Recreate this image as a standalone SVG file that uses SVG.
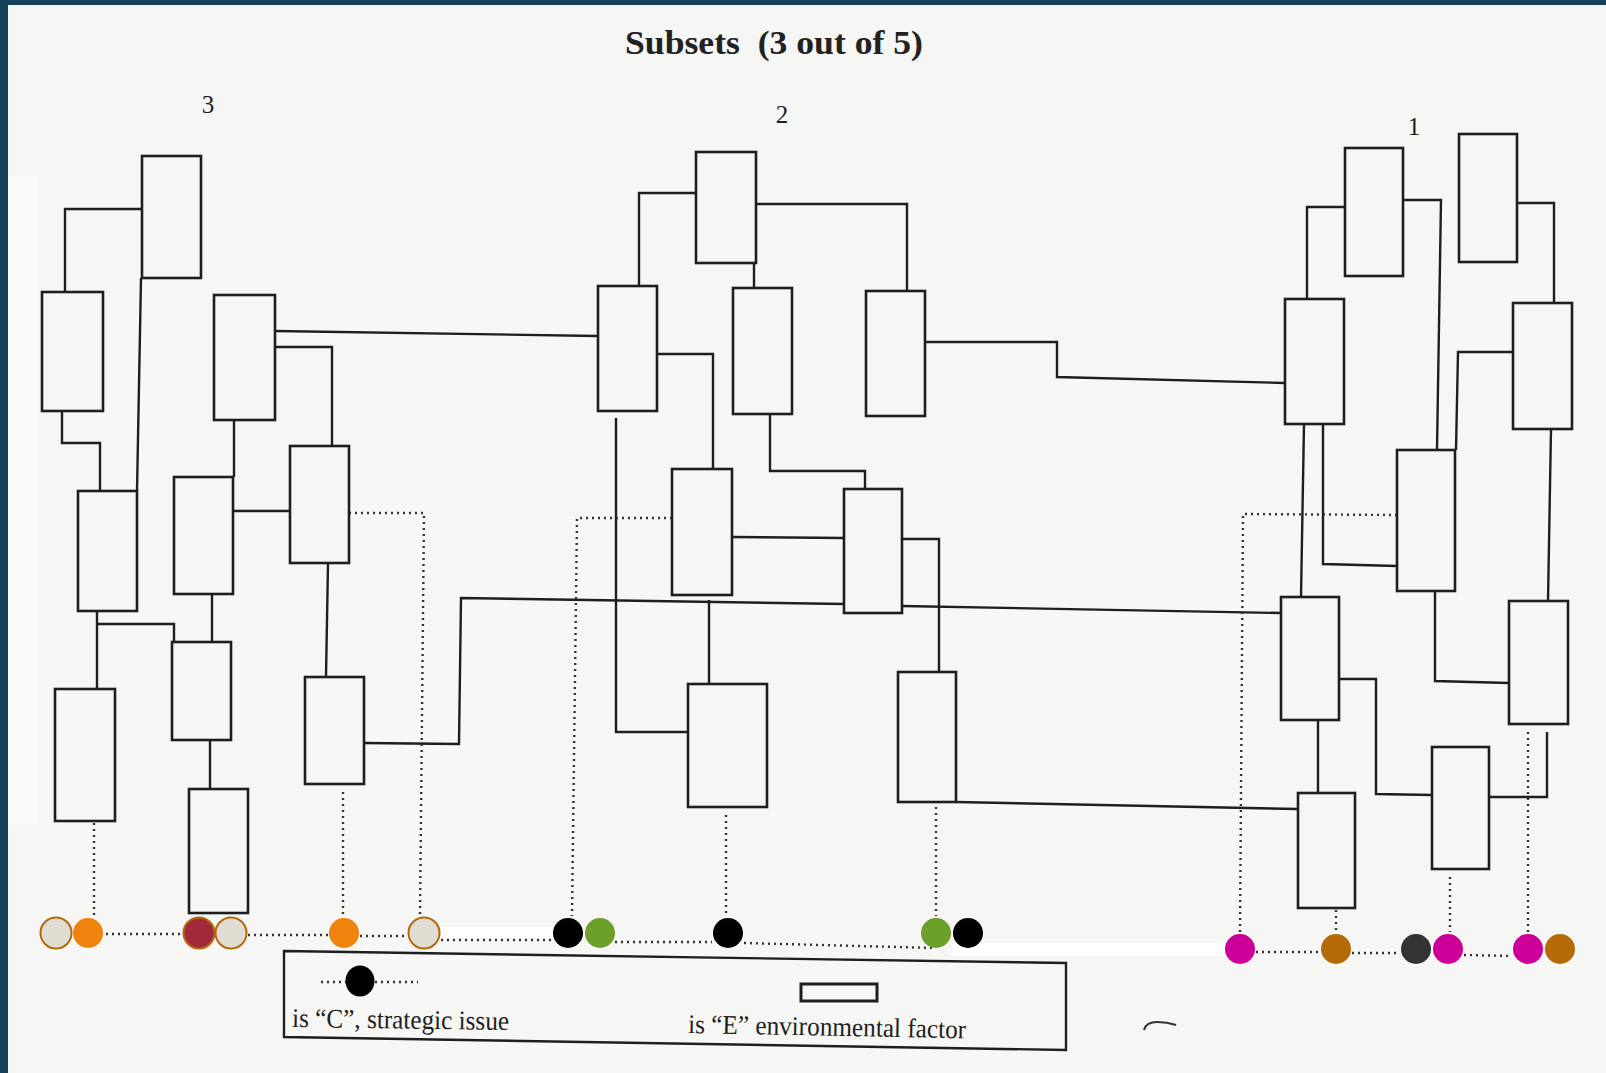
<svg xmlns="http://www.w3.org/2000/svg" width="1606" height="1073" viewBox="0 0 1606 1073">
<defs>
<style>
.bx{fill:none;stroke:#1e1e1e;stroke-width:2.6}
.ln{fill:none;stroke:#1e1e1e;stroke-width:2.4;stroke-linejoin:miter}
.dt{fill:none;stroke:#333333;stroke-width:2.4;stroke-dasharray:2 4}
.num{font-family:"Liberation Serif","Times New Roman",serif;font-size:25px;fill:#222;text-anchor:middle}
.lg{font-family:"Liberation Serif","Times New Roman",serif;font-size:27px;fill:#1e1e1e}
.beige{fill:#e2ddd3;stroke:#b3690f;stroke-width:2}
.orange{fill:#f0820e}
.dred{fill:#a3283a;stroke:#b3690f;stroke-width:2}
.green{fill:#6ca02a}
.black{fill:#000}
.mag{fill:#cc0099}
.brown{fill:#b46b05}
.dgray{fill:#333333}
</style>
</defs>
<rect x="0" y="0" width="1606" height="1073" fill="#16405b"/>
<rect x="8" y="5" width="1598" height="1068" fill="#f6f6f4"/>
<rect x="8" y="176" width="30" height="651" fill="#f9f9f8"/>
<text x="774" y="54" font-family="Liberation Serif, Times New Roman, serif" font-size="33" font-weight="bold" fill="#222" text-anchor="middle" style="white-space:pre" textLength="298" lengthAdjust="spacingAndGlyphs">Subsets  (3 out of 5)</text>
<text class="num" x="208" y="113">3</text>
<text class="num" x="782" y="123">2</text>
<text class="num" x="1414" y="135">1</text>
<g id="connectors">
<path class="ln" d="M65 292 V209 H142"/>
<path class="ln" d="M141 278 L137 491"/>
<path class="ln" d="M62 411 V443 H100 V491"/>
<path class="ln" d="M275 331 L598 336"/>
<path class="ln" d="M275 347 H332 V446"/>
<path class="ln" d="M234 420 V477"/>
<path class="ln" d="M233 511 H290"/>
<path class="ln" d="M97 611 V689"/>
<path class="ln" d="M97 624 H174 V642"/>
<path class="ln" d="M212 594 V642"/>
<path class="ln" d="M210 740 V789"/>
<path class="ln" d="M328 563 L326 677"/>
<path class="ln" d="M364 743 L459 744 L461 598 L844 604"/>
<path class="ln" d="M902 606 L1281 613"/>
<path class="ln" d="M639 286 V193 H696"/>
<path class="ln" d="M756 204 H907 V291"/>
<path class="ln" d="M754 263 V288"/>
<path class="ln" d="M925 342 H1057 V377 L1285 383"/>
<path class="ln" d="M657 354 H713 V469"/>
<path class="ln" d="M616 418 V732 H688"/>
<path class="ln" d="M770 414 V471 H865 V489"/>
<path class="ln" d="M732 537 L844 538"/>
<path class="ln" d="M709 600 V684"/>
<path class="ln" d="M902 539 H939 V672"/>
<path class="ln" d="M956 802 L1298 809"/>
<path class="ln" d="M1307 299 V207 H1345"/>
<path class="ln" d="M1403 200 H1441 L1437 450"/>
<path class="ln" d="M1517 203 H1554 V303"/>
<path class="ln" d="M1513 352 H1458 L1456 450"/>
<path class="ln" d="M1304 424 L1301 597"/>
<path class="ln" d="M1323 424 V564 L1397 566"/>
<path class="ln" d="M1551 429 L1548 601"/>
<path class="ln" d="M1435 591 V681 L1509 683"/>
<path class="ln" d="M1339 679 H1376 V794 L1432 795"/>
<path class="ln" d="M1318 720 V793"/>
<path class="ln" d="M1489 797 H1547 V732"/>
<path class="dt" d="M349 513 H424 L420 917"/>
<path class="dt" d="M94 823 V915"/>
<path class="dt" d="M343 792 V915"/>
<path class="dt" d="M672 518 H577 L572 916"/>
<path class="dt" d="M726 815 V916"/>
<path class="dt" d="M936 807 V916"/>
<path class="dt" d="M1397 515 L1243 514 L1240 932"/>
<path class="dt" d="M1528 732 V932"/>
<path class="dt" d="M1450 877 V932"/>
<path class="dt" d="M1336 910 V932"/>
<path class="dt" d="M106 934 H183"/>
<path class="dt" d="M248 935 H328"/>
<path class="dt" d="M360 936 H408"/>
<path class="dt" d="M441 940 H553"/>
<path class="dt" d="M615 942 H712"/>
<path class="dt" d="M744 943 L935 948"/>
<path class="dt" d="M1256 952 H1320"/>
<path class="dt" d="M1352 953 H1400"/>
<path class="dt" d="M1464 955 L1512 956"/>
</g>
<rect x="441" y="927" width="112" height="11" fill="#ffffff"/>
<rect x="952" y="943" width="273" height="12" fill="#ffffff"/>
<g id="L1"><rect class="bx" x="142" y="156" width="59" height="122"/></g>
<g id="L2"><rect class="bx" x="42" y="292" width="61" height="119"/></g>
<g id="L3"><rect class="bx" x="214" y="295" width="61" height="125"/></g>
<g id="L4"><rect class="bx" x="290" y="446" width="59" height="117"/></g>
<g id="L5"><rect class="bx" x="78" y="491" width="59" height="120"/></g>
<g id="L6"><rect class="bx" x="174" y="477" width="59" height="117"/></g>
<g id="L7"><rect class="bx" x="172" y="642" width="59" height="98"/></g>
<g id="L8"><rect class="bx" x="55" y="689" width="60" height="132"/></g>
<g id="L9"><rect class="bx" x="189" y="789" width="59" height="124"/></g>
<g id="L10"><rect class="bx" x="305" y="677" width="59" height="107"/></g>
<g id="M0"><rect class="bx" x="696" y="152" width="60" height="111"/></g>
<g id="M1"><rect class="bx" x="598" y="286" width="59" height="125"/></g>
<g id="M2"><rect class="bx" x="733" y="288" width="59" height="126"/></g>
<g id="M3"><rect class="bx" x="866" y="291" width="59" height="125"/></g>
<g id="M4"><rect class="bx" x="672" y="469" width="60" height="126"/></g>
<g id="M5"><rect class="bx" x="844" y="489" width="58" height="124"/></g>
<g id="M6"><rect class="bx" x="688" y="684" width="79" height="123"/></g>
<g id="M7"><rect class="bx" x="898" y="672" width="58" height="130"/></g>
<g id="RT1"><rect class="bx" x="1345" y="148" width="58" height="128"/></g>
<g id="RT2"><rect class="bx" x="1459" y="134" width="58" height="128"/></g>
<g id="R1"><rect class="bx" x="1285" y="299" width="59" height="125"/></g>
<g id="R2"><rect class="bx" x="1513" y="303" width="59" height="126"/></g>
<g id="R3"><rect class="bx" x="1397" y="450" width="58" height="141"/></g>
<g id="R4"><rect class="bx" x="1281" y="597" width="58" height="123"/></g>
<g id="R5"><rect class="bx" x="1509" y="601" width="59" height="123"/></g>
<g id="R6"><rect class="bx" x="1432" y="747" width="57" height="122"/></g>
<g id="R7"><rect class="bx" x="1298" y="793" width="57" height="115"/></g>
<g id="C1"><circle class="beige" cx="56" cy="933" r="15.5"/></g>
<g id="C2"><circle class="orange" cx="88" cy="933" r="15"/></g>
<g id="C3"><circle class="dred" cx="199" cy="933" r="15.5"/></g>
<g id="C4"><circle class="beige" cx="231" cy="933" r="15.5"/></g>
<g id="C5"><circle class="orange" cx="344" cy="933" r="15"/></g>
<g id="C6"><circle class="beige" cx="424" cy="933" r="15.5"/></g>
<g id="C7"><circle class="black" cx="568" cy="933" r="15"/></g>
<g id="C8"><circle class="green" cx="600" cy="933" r="15"/></g>
<g id="C9"><circle class="black" cx="728" cy="933" r="15"/></g>
<g id="C10"><circle class="green" cx="936" cy="933" r="15"/></g>
<g id="C11"><circle class="black" cx="968" cy="933" r="15"/></g>
<g id="C12"><circle class="mag" cx="1240" cy="949" r="15"/></g>
<g id="C13"><circle class="brown" cx="1336" cy="949" r="15"/></g>
<g id="C14"><circle class="dgray" cx="1416" cy="949" r="15"/></g>
<g id="C15"><circle class="mag" cx="1448" cy="949" r="15"/></g>
<g id="C16"><circle class="mag" cx="1528" cy="949" r="15"/></g>
<g id="C17"><circle class="brown" cx="1560" cy="949" r="15"/></g>
<g id="legend">
<polygon points="284,951 1066,963 1066,1050 284,1037" fill="none" stroke="#1e1e1e" stroke-width="2.4"/>
<path class="dt" d="M321 982 H418"/>
<ellipse cx="360" cy="981" rx="14.5" ry="15.5" fill="#000"/>
<rect x="801" y="984" width="76" height="17" fill="none" stroke="#1e1e1e" stroke-width="3"/>
<text class="lg" x="292" y="1027" transform="rotate(0.8 292 1027)" textLength="217" lengthAdjust="spacingAndGlyphs">is “C”, strategic issue</text>
<text class="lg" x="688" y="1033" transform="rotate(1.1 688 1033)" textLength="278" lengthAdjust="spacingAndGlyphs">is “E” environmental factor</text>
</g>
<path d="M1144 1030 Q1146 1022 1157 1022 Q1167 1022 1176 1025" fill="none" stroke="#333" stroke-width="2.2"/>
</svg>
